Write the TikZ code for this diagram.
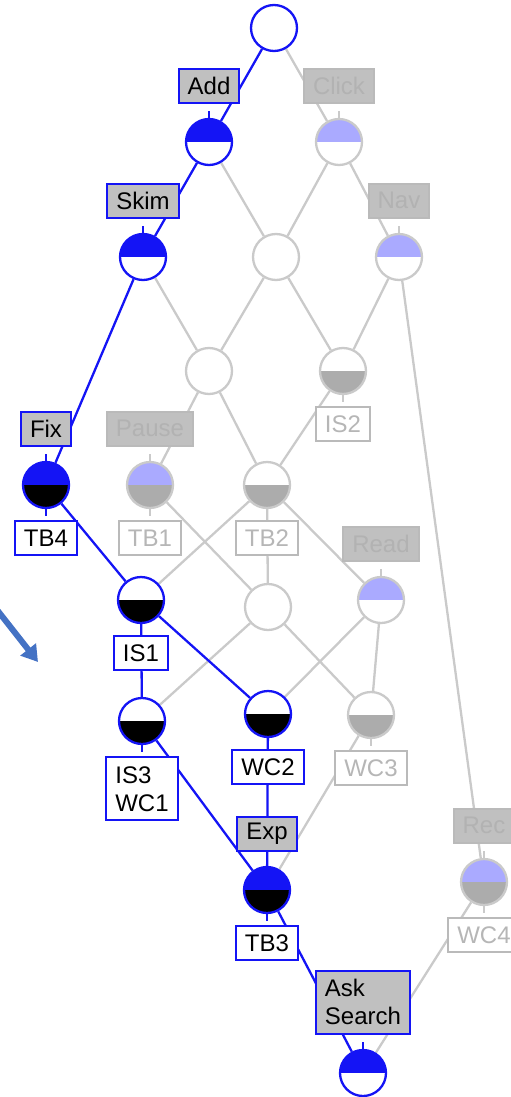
\documentclass[tikz,border=0pt]{standalone}
\usepackage{fontspec}
\setmainfont{Liberation Sans}
\usetikzlibrary{positioning,arrows.meta}
\pgfdeclarelayer{edges}
\pgfsetlayers{edges,main}

\definecolor{ablue}{RGB}{20,20,245}
\definecolor{lblue}{RGB}{170,170,255}
\definecolor{dgray}{RGB}{172,172,172}
\definecolor{boxgray}{RGB}{192,192,192}
\definecolor{bgray}{RGB}{186,186,186}
\definecolor{lgray}{RGB}{202,202,202}
\definecolor{ftext}{RGB}{178,178,178}
\definecolor{ftextw}{RGB}{182,182,182}
\definecolor{pointer}{RGB}{68,114,196}

\tikzset{
  concept/.style={circle, minimum size=23pt, inner sep=0pt, line width=1.15pt, fill=white},
  on/.style={concept, draw=ablue},
  off/.style={concept, draw=lgray},
  halves/.style 2 args={path picture={
    \fill[#1] (path picture bounding box.north west) rectangle (path picture bounding box.east);
    \fill[#2] (path picture bounding box.west) rectangle (path picture bounding box.south east);}},
  lab/.style={rectangle, inner xsep=4.5pt, inner ysep=0pt, minimum height=17pt,
    line width=1.1pt, align=left, font=\fontsize{12pt}{14pt}\selectfont},
  uon/.style={lab, draw=ablue, fill=boxgray, text=black},
  uoff/.style={lab, draw=bgray, fill=boxgray, text=ftext},
  lon/.style={lab, draw=ablue, fill=white, text=black},
  loff/.style={lab, draw=bgray, fill=white, text=ftextw},
  eon/.style={draw=ablue, line width=1.15pt},
  eoff/.style={draw=lgray, line width=1.15pt},
  up/.style={above=7pt of #1},
  down/.style={below=5.5pt of #1},
}

\begin{document}
\begin{tikzpicture}[x=0.5pt,y=-0.5pt]
\useasboundingbox (0,0) rectangle (510,1097);

% concepts of the lattice
\node[on] (top) at (274,28) {};
\node[on, halves={ablue}{white}] (add) at (209,142) {};
\node[off, halves={lblue}{white}] (click) at (339,142) {};
\node[on, halves={ablue}{white}] (skim) at (143,257) {};
\node[off] (mid) at (276,257) {};
\node[off, halves={lblue}{white}] (nav) at (399,257) {};
\node[off] (cen) at (209,371) {};
\node[off, halves={white}{dgray}] (is2) at (343,371) {};
\node[on, halves={ablue}{black}] (fix) at (46,485) {};
\node[off, halves={lblue}{dgray}] (pause) at (150,485) {};
\node[off, halves={white}{dgray}] (tb2) at (267,485) {};
\node[on, halves={white}{black}] (is1) at (141,600) {};
\node[off] (cmid) at (268,607) {};
\node[off, halves={lblue}{white}] (read) at (381,600) {};
\node[on, halves={white}{black}] (is3) at (142,721) {};
\node[on, halves={white}{black}] (wc2) at (268,714) {};
\node[off, halves={white}{dgray}] (wc3) at (371,715) {};
\node[on, halves={ablue}{black}] (exp) at (267,890) {};
\node[off, halves={lblue}{dgray}] (rec) at (484,882) {};
\node[on, halves={ablue}{white}] (ask) at (363,1073) {};

% attribute labels (above) and object labels (below)
\node[uon, up=add] (lAdd) {Add};
\node[uoff, up=click] (lClick) {Click};
\node[uon, up=skim] (lSkim) {Skim};
\node[uoff, up=nav] (lNav) {Nav};
\node[loff, down=is2] (lIS2) {IS2};
\node[uon, up=fix] (lFix) {Fix};
\node[lon, down=fix] (lTB4) {TB4};
\node[uoff, up=pause] (lPause) {Pause};
\node[loff, down=pause] (lTB1) {TB1};
\node[loff, down=tb2] (lTB2) {TB2};
\node[uoff, up=read] (lRead) {Read};
\node[lon, down=is1] (lIS1) {IS1};
\node[lon, down=is3, minimum height=31.5pt] (lIS3) {IS3\\WC1};
\node[lon, down=wc2] (lWC2) {WC2};
\node[loff, down=wc3] (lWC3) {WC3};
\node[uon, up=exp] (lExp) {Exp};
\node[lon, down=exp] (lTB3) {TB3};
\node[uoff, up=rec] (lRec) {Rec};
\node[loff, down=rec] (lWC4) {WC4};
\node[uon, up=ask, minimum height=31.5pt] (lAsk) {Ask\\Search};

% pointer arrow
\coordinate (pA) at (-6,606);
\coordinate (pB) at (38,662);
\draw[pointer, line width=3pt, -{Triangle[width=9.5pt,length=8pt]}] (pA) -- (pB);

\begin{pgfonlayer}{edges}
  % inactive edges
  \foreach \a/\b in {top/click, add/mid, click/mid, click/nav, skim/cen, mid/cen,
      mid/is2, nav/is2, nav/rec, cen/pause, cen/tb2, is2/tb2, pause/cmid, tb2/is1,
      tb2/cmid, tb2/read, cmid/is3, cmid/wc3, read/wc2, read/wc3, wc3/exp, rec/ask}
    \draw[eoff] (\a) -- (\b);
  % highlighted path
  \foreach \a/\b in {top/add, add/skim, skim/fix, fix/is1, is1/is3, is1/wc2,
      is3/exp, wc2/exp, exp/ask}
    \draw[eon] (\a) -- (\b);
  % label ticks
  \foreach \n in {add, skim, fix, exp, ask}
    \draw[eon] (\n.north) -- ++(0,-7);
  \foreach \n in {click, nav, pause, read, rec}
    \draw[eoff] (\n.north) -- ++(0,-7);
  \foreach \n in {fix, is1, is3, wc2, exp}
    \draw[eon] (\n.south) -- ++(0,7);
  \foreach \n in {is2, pause, tb2, wc3, rec}
    \draw[eoff] (\n.south) -- ++(0,7);
\end{pgfonlayer}
\end{tikzpicture}
\end{document}
